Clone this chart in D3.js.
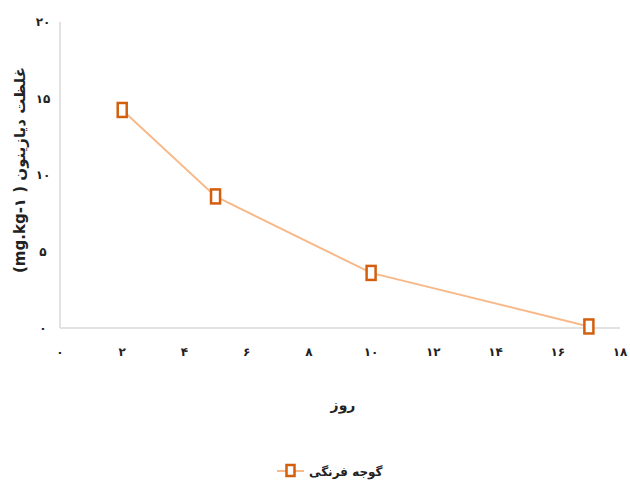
<!DOCTYPE html>
<html><head><meta charset="utf-8">
<script src="https://cdn.jsdelivr.net/npm/d3@7"></script>
<style>body{margin:0;background:#fff}svg{display:block}text{font-family:"DejaVu Sans","Noto Sans",sans-serif}</style>
</head><body>
<svg id="c" width="630" height="486"></svg>
<script>
const days = [2, 5, 10, 17];
const values = [14.25, 8.6, 3.6, 0.1];
const xTicks = [0, 2, 4, 6, 8, 10, 12, 14, 16, 18];
const yTicks = [0, 5, 10, 15, 20];
const seriesName = "گوجه فرنگی";
const xTitle = "روز";
const yTitle = "(mg.kg-۱ )  غلظت  دیازینون";

const fa = n => String(n).replace(/\d/g, d => "۰۱۲۳۴۵۶۷۸۹"[d]);
const svg = d3.select("#c");
const x = d3.scaleLinear().domain([0, 18]).range([60, 620]);
const y = d3.scaleLinear().domain([0, 20]).range([328, 22]);

// axis lines
svg.append("line").attr("x1", x(0)).attr("x2", x(0)).attr("y1", y(20)).attr("y2", y(0)).attr("stroke", "#d9d9d9").attr("stroke-width", 1.5);
svg.append("line").attr("x1", x(0)).attr("x2", x(18)).attr("y1", y(0)).attr("y2", y(0)).attr("stroke", "#d9d9d9").attr("stroke-width", 1.5);

svg.selectAll(".yt").data(yTicks).join("text").attr("x", 43).attr("y", d => y(d)).attr("dy", "0.35em")
  .attr("text-anchor", "middle").attr("font-size", 12).attr("font-weight", "bold").attr("fill", "#222").text(fa);
svg.selectAll(".xt").data(xTicks).join("text").attr("x", d => x(d)).attr("y", 356)
  .attr("text-anchor", "middle").attr("font-size", 12).attr("font-weight", "bold").attr("fill", "#222").text(fa);

svg.append("text").attr("transform", "translate(25,170) rotate(-90)").attr("text-anchor", "middle")
  .attr("direction", "ltr").attr("font-size", 15).attr("font-weight", "bold").attr("fill", "#222").text(yTitle);
svg.append("text").attr("x", 343).attr("y", 410).attr("text-anchor", "middle")
  .attr("font-size", 14).attr("font-weight", "bold").attr("fill", "#222").text(xTitle);

const pts = days.map((d, i) => [d, values[i]]);
svg.append("path").datum(pts).attr("fill", "none").attr("stroke", "#f8b98a").attr("stroke-width", 2)
  .attr("d", d3.line().x(d => x(d[0])).y(d => y(d[1])));
svg.selectAll(".m").data(pts).join("rect").attr("x", d => x(d[0]) - 4.5).attr("y", d => y(d[1]) - 7)
  .attr("width", 9).attr("height", 14).attr("fill", "#fff").attr("stroke", "#d35f0e").attr("stroke-width", 2.5);

// legend
svg.append("line").attr("x1", 277).attr("x2", 304).attr("y1", 471).attr("y2", 471).attr("stroke", "#f8b98a").attr("stroke-width", 2);
svg.append("rect").attr("x", 286.5).attr("y", 465).attr("width", 8).attr("height", 11).attr("fill", "#fff").attr("stroke", "#d35f0e").attr("stroke-width", 2.5);
svg.append("text").attr("x", 309).attr("y", 476).attr("text-anchor", "start").attr("direction", "ltr")
  .attr("font-size", 12).attr("font-weight", "bold").attr("fill", "#222").text(seriesName);
</script>
</body></html>
